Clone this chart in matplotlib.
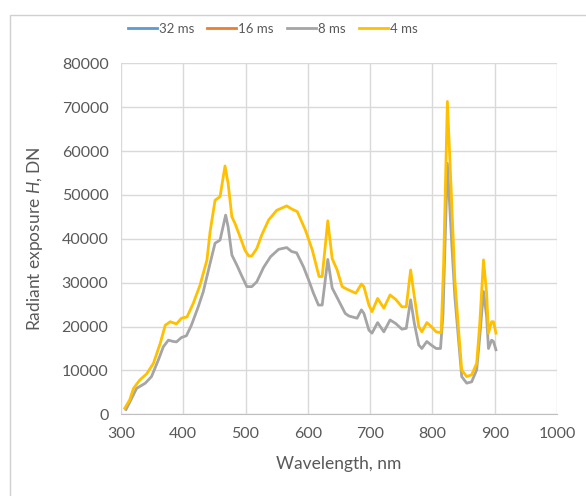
import matplotlib

matplotlib.use("Agg")
import matplotlib.pyplot as plt
from matplotlib.patches import Rectangle

# 32 ms and 16 ms series are not visible in the figure
WL_32 = []
H_32 = []
WL_16 = []
H_16 = []

WL_8 = [308, 317, 325, 339, 349, 360, 368, 376, 384, 389, 397, 405, 413, 424, 432,
        443, 451, 459, 468, 472, 478, 486, 494, 502, 510, 518, 529, 540, 553, 566,
        574, 582, 593, 601, 609, 617, 623, 632, 639, 647, 660, 666, 679, 686, 690,
        698, 703, 712, 722, 732, 741, 751, 758, 765, 771, 778, 783, 791, 798, 806,
        813, 817, 824, 831, 836, 842, 847, 855, 863, 871, 876, 882, 887, 890, 895,
        898, 902]
H_8 = [1100, 3600, 5900, 7100, 8600, 12400, 15400, 16900, 16600, 16500, 17500, 17900,
       20300, 24500, 27900, 34400, 39000, 39700, 45400, 42700, 36300, 34000, 31500,
       29100, 29100, 30200, 33500, 35900, 37600, 38000, 37100, 36800, 33600, 30700,
       27600, 24900, 24900, 35300, 28800, 26600, 23000, 22400, 21900, 23800, 23000,
       19200, 18500, 20900, 18800, 21500, 20700, 19400, 19600, 26100, 20700, 15800,
       15000, 16600, 15800, 15000, 15000, 23000, 57200, 39000, 26800, 16900, 8600,
       7100, 7400, 10100, 17700, 28000, 22300, 15000, 16900, 16600, 14700]

WL_4 = [306, 314, 320, 330, 341, 352, 363, 371, 379, 389, 397, 406, 416, 427, 438,
        443, 451, 459, 467, 472, 478, 483, 491, 499, 505, 510, 518, 526, 537, 550,
        566, 574, 583, 596, 607, 618, 623, 632, 639, 647, 655, 663, 677, 686, 690,
        698, 703, 712, 722, 732, 741, 751, 758, 765, 771, 778, 783, 791, 798, 806,
        814, 818, 824, 831, 836, 842, 847, 855, 863, 871, 876, 882, 887, 890, 895,
        898, 902]
H_4 = [1400, 3300, 5900, 7800, 9200, 11600, 16200, 20300, 21100, 20600, 21900, 22200,
       25300, 29500, 35200, 41600, 48800, 49600, 56600, 52600, 45000, 43500, 40500,
       37400, 36100, 36100, 37800, 40900, 44300, 46500, 47500, 46800, 46200, 42000,
       37500, 31400, 31400, 44100, 35500, 32900, 29100, 28500, 27600, 29700, 29100,
       24900, 23400, 26400, 24200, 27200, 26200, 24500, 24500, 32900, 26800, 20000,
       18800, 20900, 20000, 18800, 18600, 34400, 71300, 48100, 30600, 19200, 10100,
       8600, 9000, 11600, 20700, 35200, 27600, 18500, 21100, 21100, 18500]

SERIES = [
    ("32 ms", WL_32, H_32, "#5B9BD5"),
    ("16 ms", WL_16, H_16, "#ED7D31"),
    ("8 ms", WL_8, H_8, "#A5A5A5"),
    ("4 ms", WL_4, H_4, "#FFC000"),
]

TEXT = "#595959"
plt.rcParams["font.family"] = ["Lato", "DejaVu Sans"]
plt.rcParams["mathtext.fontset"] = "custom"
plt.rcParams["mathtext.it"] = "Lato:italic"
plt.rcParams["mathtext.rm"] = "Lato"

fig = plt.figure(figsize=(5.86, 4.96), dpi=100)
ax = fig.add_axes([0.2065, 0.1647, 0.744, 0.7077])

# chart-area border
fig.patches.append(Rectangle((10 / 586, -0.01), 1.0, 1 - 15 / 496 + 0.01,
                             transform=fig.transFigure, fill=False,
                             edgecolor="#d0d0d0", lw=1.0))

for name, wl, h, color in SERIES:
    ax.plot(wl, h, color=color, lw=2.0, label=name, solid_joinstyle="round")

ax.set_xlim(300, 1000)
ax.set_ylim(0, 80000)
ax.set_xticks(range(300, 1001, 100))
ax.set_yticks(range(0, 80001, 10000))
ax.grid(True, color="#d9d9d9", lw=1.0)
ax.set_axisbelow(True)
for side in ("top", "right", "left"):
    ax.spines[side].set_visible(False)
ax.spines["bottom"].set_color("#bfbfbf")
ax.tick_params(length=0, labelsize=11.5, colors=TEXT, pad=9)

ax.set_xlabel("Wavelength, nm", fontsize=12.5, color=TEXT, labelpad=11)
ax.set_ylabel("Radiant exposure $\\mathit{H}$, DN", fontsize=12.5, color=TEXT, labelpad=12)

fig.legend(loc="center", bbox_to_anchor=(0.465, 1 - 29 / 496), ncol=4, frameon=False,
           fontsize=9.5, labelcolor=TEXT, handlelength=2.2, handletextpad=0.15,
           columnspacing=1.0)

fig.savefig("out.png", dpi=100)
